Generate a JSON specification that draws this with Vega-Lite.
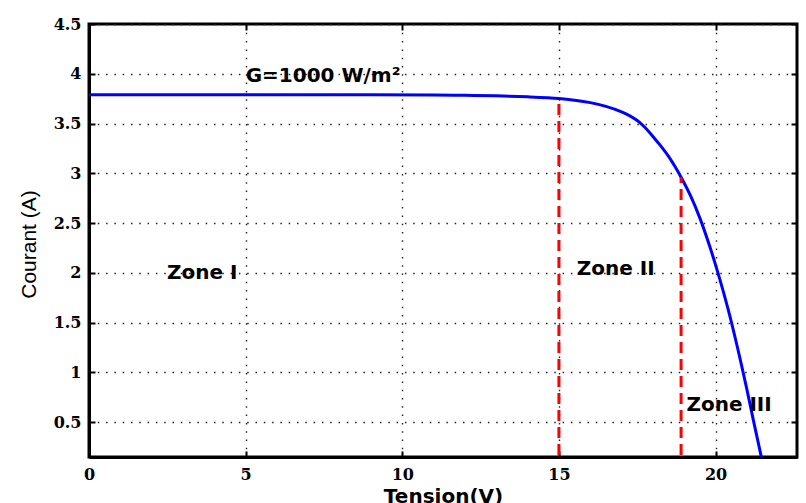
{
  "$schema": "https://vega.github.io/schema/vega-lite/v6.json",
  "width": 708,
  "height": 433,
  "autosize": {"type": "none"},
  "padding": {"left": 89, "top": 24, "right": 9, "bottom": 46},
  "background": "white",
  "config": {
    "view": {"stroke": "black", "strokeWidth": 3},
    "axis": {
      "domainColor": "black",
      "domainWidth": 3,
      "tickColor": "black",
      "tickWidth": 2,
      "tickSize": -6,
      "gridColor": "#222222",
      "gridDash": [1.5, 6.8],
      "gridWidth": 1.4,
      "gridOpacity": 1,
      "labelFont": "DejaVu Serif",
      "labelFontWeight": "bold",
      "labelFontSize": 16,
      "labelColor": "black",
      "labelFlush": false,
      "titleColor": "black"
    }
  },
  "datasets": {
    "curve": [
      {"V": 0, "I": 3.79},
      {"V": 3, "I": 3.79},
      {"V": 6, "I": 3.79},
      {"V": 9, "I": 3.789},
      {"V": 11, "I": 3.786},
      {"V": 12, "I": 3.783},
      {"V": 13, "I": 3.778},
      {"V": 14, "I": 3.768},
      {"V": 15, "I": 3.752},
      {"V": 15.5, "I": 3.735},
      {"V": 16, "I": 3.71},
      {"V": 16.5, "I": 3.672},
      {"V": 17, "I": 3.618},
      {"V": 17.25, "I": 3.58},
      {"V": 17.5, "I": 3.53},
      {"V": 17.75, "I": 3.46},
      {"V": 18, "I": 3.37},
      {"V": 18.25, "I": 3.275},
      {"V": 18.5, "I": 3.17},
      {"V": 18.7, "I": 3.07},
      {"V": 18.9, "I": 2.96},
      {"V": 19.2, "I": 2.775},
      {"V": 19.5, "I": 2.55},
      {"V": 19.8, "I": 2.28},
      {"V": 20.1, "I": 1.975},
      {"V": 20.4, "I": 1.636},
      {"V": 20.7, "I": 1.25},
      {"V": 21.0, "I": 0.83},
      {"V": 21.2, "I": 0.53},
      {"V": 21.46, "I": 0.15},
      {"V": 21.55, "I": 0.0}
    ],
    "rules": [
      {"V": 15, "i0": 0, "i1": 3.75},
      {"V": 18.9, "i0": 0, "i1": 2.96}
    ],
    "labels": [
      {"V": 5.0, "I": 3.917, "label": "G=1000 W/m²"},
      {"V": 2.49, "I": 1.937, "label": "Zone I"},
      {"V": 15.57, "I": 1.977, "label": "Zone II"},
      {"V": 19.07, "I": 0.61, "label": "Zone III"}
    ]
  },
  "resolve": {"axis": {"x": "independent", "y": "independent"}},
  "layer": [
    {
      "data": {"name": "curve"},
      "mark": {"type": "line", "color": "#0000ff", "strokeWidth": 3, "clip": true, "interpolate": "catmull-rom"},
      "encoding": {
        "x": {
          "field": "V", "type": "quantitative",
          "scale": {"domain": [0, 22.6], "nice": false, "zero": false},
          "axis": {
            "orient": "bottom",
            "values": [0, 5, 10, 15, 20],
            "grid": true,
            "labelPadding": 15,
            "title": "Tension(V)",
            "titleFont": "DejaVu Sans",
            "titleFontWeight": "bold",
            "titleFontSize": 20,
            "titleBaseline": "alphabetic",
            "titleY": 45
          }
        },
        "y": {
          "field": "I", "type": "quantitative",
          "scale": {"domain": [0.15, 4.5], "nice": false, "zero": false},
          "axis": {
            "orient": "left",
            "values": [0.5, 1, 1.5, 2, 2.5, 3, 3.5, 4, 4.5],
            "format": "~g",
            "grid": true,
            "labelPadding": 14,
            "title": "Courant (A)",
            "titleFont": "Liberation Sans",
            "titleFontWeight": "normal",
            "titleFontSize": 21,
            "titleBaseline": "alphabetic",
            "titleAlign": "center",
            "titleX": -54,
            "titleY": 220
          }
        }
      }
    },
    {
      "data": {"name": "rules"},
      "mark": {"type": "rule", "color": "#ff0000", "strokeWidth": 3, "strokeDash": [11, 6], "clip": true},
      "encoding": {
        "x": {
          "field": "V", "type": "quantitative",
          "axis": {"orient": "top", "values": [0, 5, 10, 15, 20], "labels": false, "domain": false, "grid": false, "title": null}
        },
        "y": {
          "field": "i0", "type": "quantitative",
          "axis": {"orient": "right", "values": [0.5, 1, 1.5, 2, 2.5, 3, 3.5, 4, 4.5], "labels": false, "domain": false, "grid": false, "title": null}
        },
        "y2": {"field": "i1"}
      }
    },
    {
      "data": {"name": "labels"},
      "mark": {"type": "text", "font": "DejaVu Sans", "fontWeight": "bold", "fontSize": 20, "align": "left", "baseline": "alphabetic", "color": "black"},
      "encoding": {
        "x": {"field": "V", "type": "quantitative", "axis": null},
        "y": {"field": "I", "type": "quantitative", "axis": null},
        "text": {"field": "label"}
      }
    }
  ]
}
